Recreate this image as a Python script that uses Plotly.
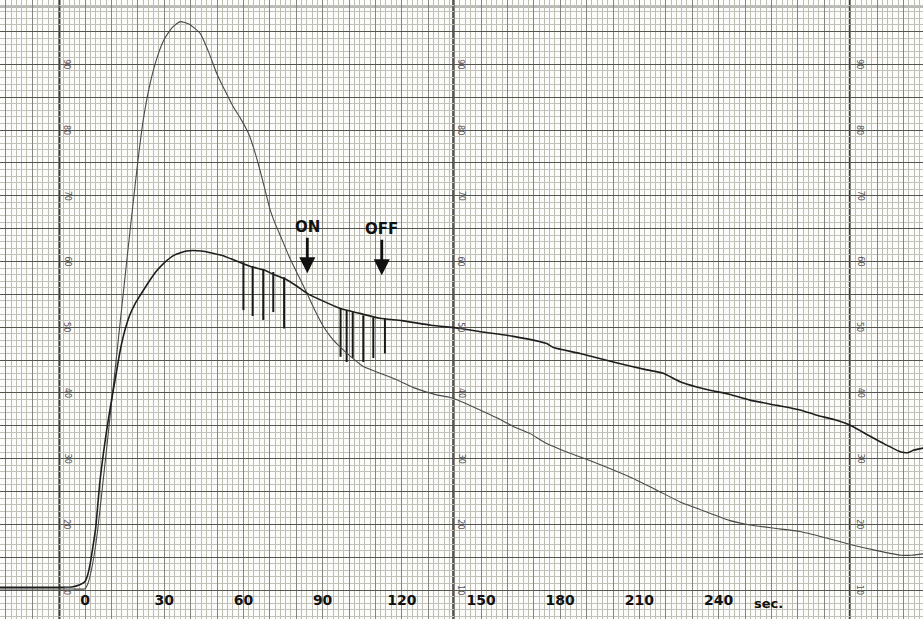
import plotly.graph_objects as go

# ---- data ----
# tall, lighter curve
t_a = [-32.2, -15, -5, 0, 1.2, 2.5, 3.8, 5, 6.5, 8, 10, 12, 14, 16, 18, 20,
       22, 24.5, 27.2, 30, 33, 36.0, 39.5, 43.6, 47, 49.9, 53, 56.2, 59, 61.9,
       64, 66, 68, 70.1, 72, 74, 77.7, 81, 84.0, 87, 90.3, 93.5, 96.6, 101, 105.4, 111.7,
       118, 124.4, 133.2, 138.3, 142.4, 149.6, 156, 162.2, 168.6, 174.9, 182.5,
       193.8, 206.4, 216.6, 225.4, 236.7, 244, 251.9, 261, 270.8, 280, 290.2,
       300, 309.1, 313, 317.4]
v_a = [10.15, 10.15, 10.15, 10.2, 11.1, 13.2, 16.2, 19.8, 25.3, 30.8, 38.3, 45.8, 53.3, 60.8, 68.1, 75.2,
       81.4, 86.8, 90.9, 93.8, 95.6, 96.5, 96.1, 94.7, 91.7, 88.6, 86.0, 83.5, 81.7, 79.5,
       77.1, 74.3, 71.2, 67.9, 65.8, 63.9, 60.4, 57.7, 55.2, 52.6, 50.1, 48.3, 47.0, 45.4, 44.0, 43.0,
       42.0, 40.8, 39.7, 39.3, 38.7, 37.4, 36.2, 34.9, 33.8, 32.3, 31.0,
       29.3, 27.2, 25.2, 23.4, 21.7, 20.6, 19.9, 19.4, 18.9, 18.0, 16.9,
       16.0, 15.3, 15.3, 15.5]

# lower, darker curve
t_b = [-32.2, -15, -5, -2, 0, 1, 2, 3, 4, 5.7, 8.2, 10, 11.4, 12.5, 13.5, 14.5, 15.5,
       17, 19, 21, 24, 27, 30, 34, 38.5, 44, 48, 52, 55.3, 59, 63, 67.9, 71, 75.5, 80, 84.3, 90,
       97, 104, 111.7, 120, 131, 142.4, 150, 162.2, 174.9, 177.4, 187.5, 200.1,
       212.8, 219.0, 225.4, 231.7, 236.7, 244, 251.9, 262, 270.8, 277.2, 284,
       290.2, 296.5, 302, 309.1, 311.6, 314, 317.4]
v_b = [10.4, 10.4, 10.45, 10.8, 11.3, 12.3, 14.1, 16.6, 19.3, 26.7, 34.3, 38.8, 42.0, 44.6, 46.8, 48.6, 50.1,
       51.9, 53.6, 54.9, 56.8, 58.5, 59.8, 61.0, 61.6, 61.6, 61.3, 60.9, 60.4, 59.8, 59.2, 58.7, 58.1, 57.4, 56.3, 55.1, 54.0,
       52.8, 52.1, 51.35, 51.0, 50.3, 49.8, 49.3, 48.6, 47.5, 46.9, 46.0, 44.7,
       43.5, 43.0, 41.7, 40.9, 40.4, 39.8, 38.9, 38.1, 37.4, 36.6, 35.9,
       35.0, 33.6, 32.4, 31.0, 30.9, 31.3, 31.6]

# vertical hatch strokes hanging from the lower curve
hatch_t = [60.0, 63.5, 67.5, 71.3, 75.4, 96.8, 99.1, 101.4, 105.4, 109.2, 113.6]
hatch_top = [59.9, 59.3, 58.85, 58.4, 57.6, 52.9, 52.6, 52.3, 51.8, 51.5, 51.3]
hatch_bottom = [52.6, 51.7, 51.1, 52.3, 49.8, 45.5, 44.7, 45.3, 44.7, 45.3, 46.0]

# event markers
event_labels = ["ON", "OFF"]
event_t = [84.2, 112.4]
event_v = [58.2, 57.9]

# time axis labels (seconds)
time_ticks = [0, 30, 60, 90, 120, 150, 180, 210, 240]
time_labels = ["0", "30", "60", "90", "120", "150", "180", "210", "240"]
unit_label = "sec."

# printed scale on the chart paper
scale_values = [10, 20, 30, 40, 50, 60, 70, 80, 90]
scale_columns = [-6.8, 142.4, 293.6]
column_lines = [-9.6, 139.4, 289.6]

X_RANGE = [-32.2, 317.4]
Y_RANGE = [5.59, 99.79]

fig = go.Figure()

# hatch strokes
hx, hy = [], []
for t, top, bot in zip(hatch_t, hatch_top, hatch_bottom):
    hx += [t, t, None]
    hy += [top, bot, None]
fig.add_trace(go.Scatter(x=hx, y=hy, mode="lines",
                         line=dict(color="#1a1a1a", width=2), hoverinfo="skip"))

fig.add_trace(go.Scatter(x=t_a, y=v_a, mode="lines",
                         line=dict(color="#4a4a4a", width=1.1, shape="spline", smoothing=0.5),
                         hoverinfo="skip"))
fig.add_trace(go.Scatter(x=t_b, y=v_b, mode="lines",
                         line=dict(color="#1e1e1e", width=1.6, shape="spline", smoothing=0.5),
                         hoverinfo="skip"))

# time labels
fig.add_trace(go.Scatter(x=time_ticks, y=[8.2] * len(time_ticks), mode="text",
                         text=["<b>%s</b>" % s for s in time_labels],
                         textfont=dict(family="DejaVu Sans", size=14, color="#111"),
                         hoverinfo="skip"))
fig.add_annotation(x=258.7, y=8.0, text="<b>%s</b>" % unit_label, showarrow=False,
                   font=dict(family="DejaVu Sans", size=13, color="#111"))

# event arrows
for lab, t, v in zip(event_labels, event_t, event_v):
    fig.add_annotation(x=t, y=v, text="<b>%s</b>" % lab, showarrow=True,
                       ax=0, ay=-46, arrowhead=2, arrowsize=1.15, arrowwidth=2.8,
                       arrowcolor="#111", standoff=0,
                       font=dict(family="DejaVu Sans", size=15, color="#111"))

# printed scale digits
for c in scale_columns:
    for v in scale_values:
        fig.add_annotation(x=c, y=v, text=str(v), showarrow=False, textangle=90,
                           font=dict(family="DejaVu Sans", size=8, color="#555"))

for c in column_lines:
    fig.add_shape(type="line", xref="x", yref="paper", x0=c, x1=c, y0=0, y1=1,
                  line=dict(color="#3a3a3a", width=1.6), layer="between")
fig.add_shape(type="line", xref="paper", yref="paper", x0=0, x1=1, y0=1 - 7 / 619, y1=1 - 7 / 619,
              line=dict(color="#777", width=1), layer="between")

fig.update_layout(
    width=923, height=619, margin=dict(l=0, r=0, t=0, b=0),
    paper_bgcolor="#fcfcfa", plot_bgcolor="#fcfcfa", showlegend=False,
    xaxis=dict(range=X_RANGE, showticklabels=False, zeroline=False, ticks="",
               tick0=0, dtick=10, showgrid=True, gridcolor="#85857b", gridwidth=1,
               minor=dict(dtick=2, tick0=0, showgrid=True, gridcolor="#bdbdb2", gridwidth=0.8)),
    yaxis=dict(range=Y_RANGE, showticklabels=False, zeroline=False, ticks="",
               tick0=0, dtick=5, showgrid=True, gridcolor="#55554f", gridwidth=1.3,
               minor=dict(dtick=1, tick0=0, showgrid=True, gridcolor="#c2c2ba", gridwidth=0.8)),
)

fig.write_html("out.html")
